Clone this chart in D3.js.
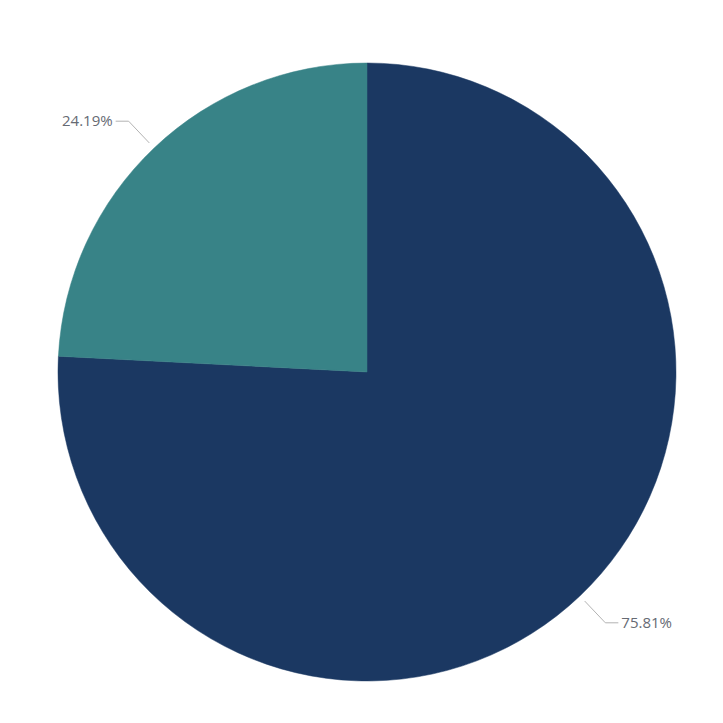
<!DOCTYPE html>
<html><head><meta charset="utf-8">
<script src="https://cdn.jsdelivr.net/npm/d3@7"></script>
<style>body{margin:0;background:#fff}svg{display:block}</style>
</head><body>
<script>
const categories = ["A", "B"];
const values = [75.81, 24.19];
const labels = ["75.81%", "24.19%"];
const colors = ["#1b3862", "#388387"];

const W = 723, H = 723, cx = 367, cy = 372, R = 309;
const svg = d3.select("body").append("svg").attr("width", W).attr("height", H);
const g = svg.append("g").attr("transform", `translate(${cx},${cy})`);
const pie = d3.pie().sort(null).value(d => d.v);
const data = pie(categories.map((c, i) => ({c, v: values[i], l: labels[i]})));
const arc = d3.arc().innerRadius(0).outerRadius(R);
const color = d3.scaleOrdinal().domain(categories).range(colors);

g.selectAll("path.slice").data(data).enter().append("path")
  .attr("d", arc).attr("fill", d => color(d.data.c))
  .attr("stroke", d => color(d.data.c)).attr("stroke-width", 0.5);

const r1 = 316, r2 = 346, hl = 13;
data.forEach(d => {
  const a = (d.startAngle + d.endAngle) / 2;
  const p1 = [Math.sin(a) * r1, -Math.cos(a) * r1];
  const p2 = [Math.sin(a) * r2, -Math.cos(a) * r2];
  const right = Math.sin(a) > 0;
  const p3 = [p2[0] + (right ? hl : -hl), p2[1]];
  g.append("polyline").attr("points", [p1, p2, p3].map(p => p.join(",")).join(" "))
    .attr("fill", "none").attr("stroke", "#b3b3b3").attr("stroke-width", 1);
  g.append("text").attr("x", p3[0] + (right ? 3 : -3)).attr("y", p3[1])
    .attr("dy", "0.35em").attr("text-anchor", right ? "start" : "end")
    .attr("font-family", "'Open Sans', 'Noto Sans', sans-serif").attr("font-size", 15)
    .attr("fill", "#666a73").text(d.data.l);
});
</script>
</body></html>
